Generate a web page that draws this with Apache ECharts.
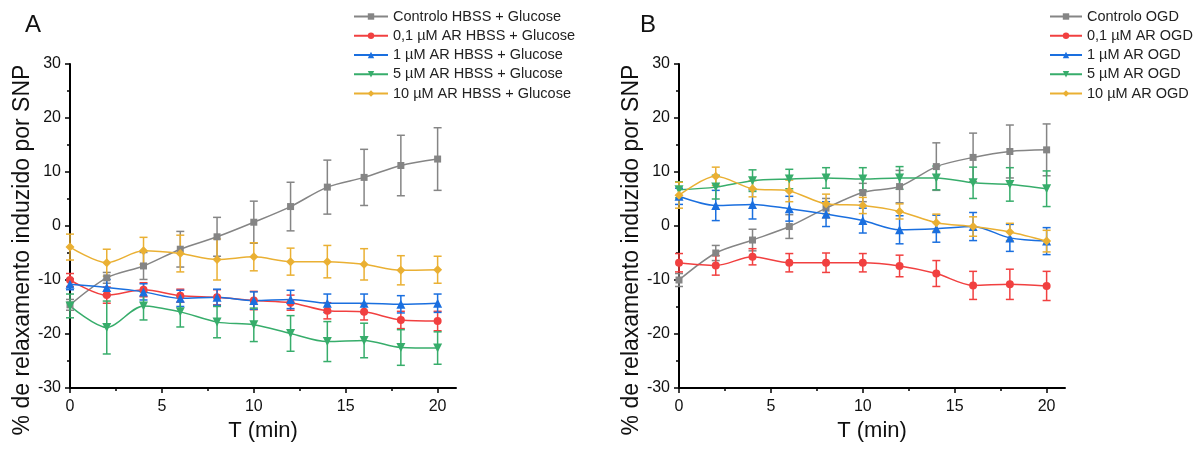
<!DOCTYPE html>
<html>
<head>
<meta charset="utf-8">
<script src="https://cdn.jsdelivr.net/npm/echarts@6/dist/echarts.min.js"></script>
<style>
  html, body { margin: 0; padding: 0; background: #fff; }
  #chart { width: 1193px; height: 456px; }
</style>
</head>
<body>
<div id="chart"></div>
<script>
  const times = [0, 2, 4, 6, 8, 10, 12, 14, 16, 18, 20];
  const xMajor = [0, 5, 10, 15, 20];
  const xMinor = [2.5, 7.5, 12.5, 17.5];

  const namesA = ['Controlo HBSS + Glucose', '0,1 µM AR HBSS + Glucose', '1 µM AR HBSS + Glucose', '5 µM AR HBSS + Glucose', '10 µM AR HBSS + Glucose'];
  const namesB = ['Controlo OGD', '0,1 µM AR OGD', '1 µM AR OGD', '5 µM AR OGD', '10 µM AR OGD'];

  // painel A (HBSS + glucose): media e erro
  const ctrlA = [-14.6, -9.6, -7.4, -4.3, -2.0, 0.7, 3.6, 7.2, 9.0, 11.2, 12.4];
  const ctrlAErr = [1.0, 1.0, 2.5, 3.3, 3.6, 3.9, 4.5, 5.0, 5.2, 5.6, 5.8];
  const ar01A = [-10.0, -12.8, -11.8, -12.9, -13.2, -13.8, -14.2, -15.7, -15.9, -17.4, -17.6];
  const ar01AErr = [1.2, 1.5, 1.3, 1.2, 1.4, 1.7, 1.4, 1.5, 1.5, 1.6, 1.8];
  const ar1A = [-10.8, -11.4, -12.2, -13.4, -13.2, -13.8, -13.6, -14.3, -14.3, -14.5, -14.3];
  const ar1AErr = [1.0, 1.5, 1.5, 1.5, 1.5, 1.6, 1.7, 1.7, 1.7, 1.6, 1.7];
  const ar5A = [-14.8, -18.8, -14.8, -15.9, -17.8, -18.3, -19.9, -21.4, -21.2, -22.5, -22.6];
  const ar5AErr = [2.2, 4.9, 2.6, 2.8, 2.9, 3.1, 3.3, 3.7, 3.2, 3.3, 3.0];
  const ar10A = [-3.9, -6.8, -4.6, -5.1, -6.2, -5.7, -6.6, -6.6, -7.1, -8.2, -8.1];
  const ar10AErr = [2.4, 2.5, 2.5, 3.4, 3.8, 2.6, 2.5, 3.0, 2.9, 2.7, 2.5];

  // painel B (OGD)
  const ctrlB = [-10.0, -5.0, -2.6, -0.1, 3.3, 6.2, 7.3, 11.0, 12.7, 13.8, 14.1];
  const ctrlBErr = [1.2, 1.4, 2.0, 2.2, 1.8, 1.7, 3.0, 4.4, 4.5, 4.9, 4.8];
  const ar01B = [-6.8, -7.3, -5.7, -6.8, -6.8, -6.8, -7.4, -8.8, -11.0, -10.8, -11.1];
  const ar01BErr = [1.7, 1.8, 1.5, 1.7, 1.8, 1.7, 2.0, 2.4, 2.6, 2.8, 2.7];
  const ar1B = [5.5, 3.8, 4.0, 3.2, 2.2, 1.0, -0.7, -0.5, -0.1, -2.2, -2.8];
  const ar1BErr = [1.5, 2.8, 2.7, 2.3, 2.3, 2.3, 2.6, 2.5, 2.6, 2.5, 2.5];
  const ar5B = [6.7, 7.2, 8.4, 8.7, 8.9, 8.7, 8.9, 8.9, 8.0, 7.7, 6.9];
  const ar5BErr = [1.5, 2.2, 2.0, 1.8, 1.9, 2.1, 2.1, 2.2, 2.9, 3.1, 3.3];
  const ar10B = [5.7, 9.2, 6.9, 6.5, 4.1, 3.8, 2.7, 0.6, -0.1, -1.1, -2.8];
  const ar10BErr = [2.4, 1.7, 1.5, 2.0, 1.8, 1.5, 1.4, 1.6, 1.8, 1.6, 2.0];

  const colors = ['#858585', '#F14040', '#1A6FDF', '#37AD6B', '#EAB033'];
  const symbols = ['rect', 'circle', 'triangle', 'triangle', 'diamond'];
  const symbolRot = [0, 0, 0, 180, 0];
  const symbolSizes = [7, 8, 9, 9, 9];

  const font = 'Liberation Sans, Arial, sans-serif';

  function errorBar(color) {
    return function (params, api) {
      const x = api.value(0);
      const lo = api.coord([x, api.value(1)]);
      const hi = api.coord([x, api.value(2)]);
      const w = 4;
      const style = { stroke: color, lineWidth: 1.5, fill: null };
      return {
        type: 'group',
        children: [
          { type: 'line', shape: { x1: lo[0], y1: lo[1], x2: hi[0], y2: hi[1] }, style: style },
          { type: 'line', shape: { x1: lo[0] - w, y1: lo[1], x2: lo[0] + w, y2: lo[1] }, style: style },
          { type: 'line', shape: { x1: hi[0] - w, y1: hi[1], x2: hi[0] + w, y2: hi[1] }, style: style }
        ]
      };
    };
  }

  const series = [];
  function addPanel(panel, names, means, errs) {
    names.forEach((name, i) => {
      series.push({
        type: 'custom',
        xAxisIndex: panel * 2,
        yAxisIndex: panel,
        renderItem: errorBar(colors[i]),
        encode: { x: 0, y: [1, 2] },
        silent: true,
        data: times.map((t, j) => [t, means[i][j] - errs[i][j], means[i][j] + errs[i][j]])
      });
      series.push({
        name: name,
        type: 'line',
        xAxisIndex: panel * 2,
        yAxisIndex: panel,
        smooth: 0.3,
        symbol: symbols[i],
        symbolRotate: symbolRot[i],
        symbolSize: symbolSizes[i],
        lineStyle: { color: colors[i], width: 1.5 },
        itemStyle: { color: colors[i] },
        data: times.map((t, j) => [t, means[i][j]])
      });
    });
  }
  addPanel(0, namesA, [ctrlA, ar01A, ar1A, ar5A, ar10A], [ctrlAErr, ar01AErr, ar1AErr, ar5AErr, ar10AErr]);
  addPanel(1, namesB, [ctrlB, ar01B, ar1B, ar5B, ar10B], [ctrlBErr, ar01BErr, ar1BErr, ar5BErr, ar10BErr]);

  function xAxes(gridIndex) {
    return [
      {
        gridIndex: gridIndex, type: 'value', min: 0, max: 21, interval: 5,
        name: 'T (min)', nameLocation: 'middle', nameGap: 32,
        nameTextStyle: { fontSize: 22, color: '#111', fontFamily: font },
        axisLine: { show: true, onZero: false, lineStyle: { color: '#000', width: 2 } },
        axisTick: { show: true, length: 5, customValues: xMajor, lineStyle: { color: '#000', width: 1.5 } },
        axisLabel: { customValues: xMajor, fontSize: 16, color: '#111', margin: 11, fontFamily: font },
        splitLine: { show: false }
      },
      {
        gridIndex: gridIndex, type: 'value', min: 0, max: 21, position: 'bottom',
        axisLine: { show: false, onZero: false },
        axisTick: { show: true, length: 3, customValues: xMinor, lineStyle: { color: '#000', width: 1.5 } },
        axisLabel: { show: false },
        splitLine: { show: false }
      }
    ];
  }

  function yAxis(gridIndex) {
    return {
      gridIndex: gridIndex, type: 'value', min: -30, max: 30, interval: 10,
      name: '% de relaxamento induzido por SNP', nameLocation: 'middle', nameGap: 34,
      nameTextStyle: { fontSize: 23, color: '#111', fontFamily: font, padding: [0, 48, 0, 0] },
      axisLine: { show: true, onZero: false, lineStyle: { color: '#000', width: 2 } },
      axisTick: { show: true, length: 5, lineStyle: { color: '#000', width: 1.5 } },
      minorTick: { show: true, splitNumber: 2, length: 3, lineStyle: { color: '#000', width: 1.5 } },
      axisLabel: { fontSize: 16, color: '#111', margin: 9, fontFamily: font },
      splitLine: { show: false }
    };
  }

  function legend(names, left, itemWidth) {
    return {
      data: names,
      orient: 'vertical',
      left: left,
      top: 4,
      itemWidth: itemWidth,
      itemHeight: 8,
      itemGap: 4.25,
      selectedMode: false,
      textStyle: { fontSize: 14.5, color: '#222', fontFamily: font }
    };
  }

  const chart = echarts.init(document.getElementById('chart'));
  chart.setOption({
    backgroundColor: '#fff',
    animation: false,
    title: [
      { text: 'A', left: 20, top: 8, textStyle: { fontSize: 24, fontWeight: 'normal', color: '#111', fontFamily: font } },
      { text: 'B', left: 635, top: 8, textStyle: { fontSize: 24, fontWeight: 'normal', color: '#111', fontFamily: font } }
    ],
    legend: [legend(namesA, 348, 34), legend(namesB, 1044, 32)],
    grid: [
      { left: 70, top: 64, width: 386, height: 324 },
      { left: 679, top: 64, width: 386, height: 324 }
    ],
    xAxis: xAxes(0).concat(xAxes(1)),
    yAxis: [yAxis(0), yAxis(1)],
    series: series
  });
</script>
</body>
</html>
